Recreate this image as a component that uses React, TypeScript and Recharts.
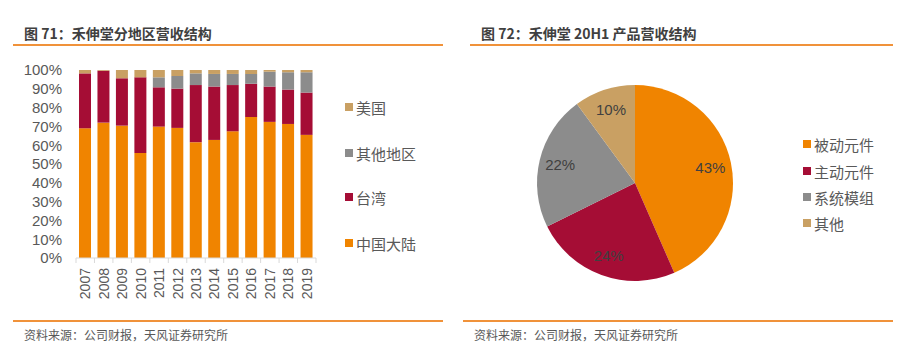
import React from 'react';
import { BarChart, Bar, XAxis, YAxis, PieChart, Pie, Cell } from 'recharts';

const years = ['2007', '2008', '2009', '2010', '2011', '2012', '2013', '2014', '2015', '2016', '2017', '2018', '2019'];
const china = [69, 72, 70.4, 55.8, 69.9, 69.2, 61.6, 62.8, 67.4, 75, 72.4, 71.3, 65.5];
const taiwan = [29.2, 27.6, 25.2, 40.3, 20.9, 20.9, 30.4, 28.4, 24.6, 17.7, 18.8, 18.3, 22.5];
const otherRegion = [0, 0, 0, 0, 5.3, 6.7, 6.2, 6.7, 5.9, 5.2, 7.9, 9.2, 10.8];
const usa = [1.8, 0.4, 4.4, 3.9, 3.9, 3.2, 1.8, 2.1, 2.1, 2.1, 0.9, 1.2, 1.2];
const yTicks = [0, 10, 20, 30, 40, 50, 60, 70, 80, 90, 100];

const productNames = ['被动元件', '主动元件', '系统模组', '其他'];
const productShares = [43, 24, 22, 10];

const ORANGE = '#F08400';
const RED = '#A50D35';
const GRAY = '#8C8C8C';
const TAN = '#C9A063';
const TEXT = '#595959';
const LINE = '#F0923A';
const FONT = '"Liberation Sans", "Noto Sans CJK SC", sans-serif';

const regionSeries = [
  { key: 'china', name: '中国大陆', color: ORANGE },
  { key: 'taiwan', name: '台湾', color: RED },
  { key: 'other', name: '其他地区', color: GRAY },
  { key: 'usa', name: '美国', color: TAN },
];

const barData = years.map((y, i) => ({
  year: y,
  china: china[i],
  taiwan: taiwan[i],
  other: otherRegion[i],
  usa: usa[i],
}));

const pieData = productNames.map((n, i) => ({ name: n, value: productShares[i] }));
const pieColors = [ORANGE, RED, GRAY, TAN];

const BAND = 240 / years.length;

const YearTick = (props: any) => {
  const { x, y, payload, index } = props;
  const tx = x;
  const ty = y + 10;
  return (
    <g>
      <line x1={x - BAND / 2} y1={y} x2={x - BAND / 2} y2={y + 5} stroke="#d9d9d9" />
      {index === years.length - 1 && (
        <line x1={x + BAND / 2} y1={y} x2={x + BAND / 2} y2={y + 5} stroke="#d9d9d9" />
      )}
      <text
        x={tx}
        y={ty}
        transform={`rotate(-90, ${tx}, ${ty})`}
        textAnchor="end"
        dominantBaseline="central"
        fill={TEXT}
        fontSize={14}
        fontFamily={FONT}
      >
        {payload.value}
      </text>
    </g>
  );
};

const RAD = Math.PI / 180;
const PieLabel = (props: any) => {
  const { cx, cy, midAngle, value } = props;
  const r = 77;
  const x = cx + r * Math.cos(-midAngle * RAD);
  const y = cy + r * Math.sin(-midAngle * RAD);
  return (
    <text x={x} y={y} textAnchor="middle" dominantBaseline="central" fill="#404040" fontSize={15} fontFamily={FONT}>
      {value}%
    </text>
  );
};

const Title = ({ left, width, text }: { left: number; width: number; text: string }) => (
  <>
    <div
      style={{
        position: 'absolute',
        left: left + 11,
        top: 24,
        fontSize: 14,
        fontWeight: 'bold',
        color: '#404040',
        fontFamily: '"Noto Sans CJK SC", sans-serif',
        lineHeight: '18px',
        whiteSpace: 'nowrap',
      }}
    >
      {text}
    </div>
    <div style={{ position: 'absolute', left, top: 44, width, height: 2, background: LINE }} />
  </>
);

const Footer = ({ left, width }: { left: number; width: number }) => (
  <>
    <div style={{ position: 'absolute', left, top: 320, width, height: 2, background: LINE }} />
    <div
      style={{
        position: 'absolute',
        left: left + 11,
        top: 327,
        fontSize: 12,
        color: TEXT,
        fontFamily: '"Noto Sans CJK SC", sans-serif',
        lineHeight: '16px',
        whiteSpace: 'nowrap',
      }}
    >
      资料来源：公司财报，天风证券研究所
    </div>
  </>
);

const LegendItem = ({ x, y, color, label }: { x: number; y: number; color: string; label: string }) => (
  <div
    style={{
      position: 'absolute',
      left: x,
      top: y - 10,
      height: 20,
      display: 'flex',
      alignItems: 'center',
      fontSize: 15,
      color: TEXT,
      fontFamily: '"Noto Sans CJK SC", sans-serif',
      whiteSpace: 'nowrap',
    }}
  >
    <span style={{ display: 'inline-block', width: 8, height: 8, background: color, marginRight: 3 }} />
    {label}
  </div>
);

export default function App() {
  const barLegendY = [243, 197, 153, 107];
  const pieLegendY = [144, 171, 197, 223];
  return (
    <div style={{ position: 'absolute', left: 0, top: 0, width: 908, height: 354, background: '#fff', overflow: 'hidden' }}>
      <Title left={13} width={430} text="图 71：禾伸堂分地区营收结构" />
      <Title left={470} width={423} text="图 72：禾伸堂 20H1 产品营收结构" />

      <div style={{ position: 'absolute', left: 0, top: 0 }}>
        <BarChart width={450} height={320} data={barData} margin={{ top: 70, right: 134, bottom: 10, left: 0 }}>
          <YAxis
            type="number"
            domain={[0, 100]}
            ticks={yTicks}
            interval={0}
            tickFormatter={(v) => `${v}%`}
            axisLine={false}
            tickLine={false}
            tickSize={0}
            tickMargin={14}
            width={76}
            tick={{ fill: TEXT, fontSize: 15, fontFamily: FONT }}
          />
          <XAxis
            dataKey="year"
            height={52}
            interval={0}
            tickSize={0}
            tickMargin={0}
            tickLine={false}
            axisLine={{ stroke: '#d9d9d9' }}
            tick={<YearTick />}
          />
          {regionSeries.map((s) => (
            <Bar key={s.key} dataKey={s.key} name={s.name} stackId="a" fill={s.color} barSize={12} isAnimationActive={false} />
          ))}
        </BarChart>
      </div>

      {regionSeries.map((s, i) => (
        <LegendItem key={s.key} x={345} y={barLegendY[i]} color={s.color} label={s.name} />
      ))}

      <div style={{ position: 'absolute', left: 460, top: 0 }}>
        <PieChart width={440} height={320}>
          <Pie
            data={pieData}
            dataKey="value"
            cx={170}
            cy={178}
            outerRadius={98}
            startAngle={90}
            endAngle={-270}
            stroke="none"
            label={PieLabel}
            labelLine={false}
            isAnimationActive={false}
          >
            {pieData.map((d, i) => (
              <Cell key={d.name} fill={pieColors[i]} />
            ))}
          </Pie>
        </PieChart>
      </div>

      {productNames.map((n, i) => (
        <LegendItem key={n} x={803} y={pieLegendY[i]} color={pieColors[i]} label={n} />
      ))}

      <Footer left={13} width={430} />
      <Footer left={463} width={430} />
    </div>
  );
}
